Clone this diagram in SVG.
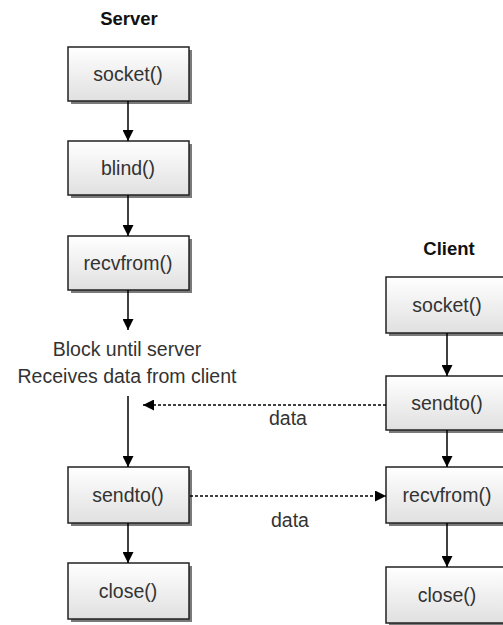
<svg xmlns="http://www.w3.org/2000/svg" width="503" height="625" viewBox="0 0 503 625">
<defs>
<linearGradient id="g" x1="0" y1="0" x2="0" y2="1">
<stop offset="0" stop-color="#ffffff"/>
<stop offset="1" stop-color="#e0e0e0"/>
</linearGradient>
<marker id="ah" viewBox="0 0 10 10" refX="10" refY="5" markerWidth="11" markerHeight="11" markerUnits="userSpaceOnUse" orient="auto">
<path d="M0,0 L10,5 L0,10 Z" fill="#000"/>
</marker>
</defs>
<style>
.box{fill:url(#g);stroke:#222;stroke-width:1.5}
.sh{fill:#7a7a7a}
.t{font-family:"Liberation Sans",Arial,sans-serif;font-size:19.5px;fill:#333;text-anchor:middle}
.h{font-family:"Liberation Sans",Arial,sans-serif;font-size:18.5px;font-weight:bold;fill:#111;text-anchor:middle}
.ln{stroke:#000;stroke-width:1.5;fill:none}
.dl{stroke:#000;stroke-width:1.5;fill:none;stroke-dasharray:3,2}
</style>
<text class="h" x="129" y="25">Server</text>
<text class="h" x="449" y="255">Client</text>
<g id="s_socket"><rect class="sh" x="71" y="50" width="121" height="54"/><rect class="box" x="68" y="47" width="121" height="54"/><text class="t" x="128" y="81">socket()</text></g>
<g id="s_blind"><rect class="sh" x="71" y="144" width="121" height="54"/><rect class="box" x="68" y="141" width="121" height="54"/><text class="t" x="128" y="175">blind()</text></g>
<g id="s_recvfrom"><rect class="sh" x="71" y="239" width="121" height="54"/><rect class="box" x="68" y="236" width="121" height="54"/><text class="t" x="128" y="270">recvfrom()</text></g>
<g id="s_block"><text class="t" x="127" y="356">Block until server</text><text class="t" x="127" y="383">Receives data from client</text></g>
<g id="s_sendto"><rect class="sh" x="71" y="470" width="121" height="56"/><rect class="box" x="68" y="467" width="121" height="56"/><text class="t" x="128" y="502">sendto()</text></g>
<g id="s_close"><rect class="sh" x="71" y="566" width="121" height="56"/><rect class="box" x="68" y="563" width="121" height="56"/><text class="t" x="128" y="598">close()</text></g>
<g id="c_socket"><rect class="sh" x="389" y="280" width="121" height="56"/><rect class="box" x="386" y="277" width="121" height="56"/><text class="t" x="447" y="312">socket()</text></g>
<g id="c_sendto"><rect class="sh" x="389" y="379" width="121" height="54"/><rect class="box" x="386" y="376" width="121" height="54"/><text class="t" x="447" y="410">sendto()</text></g>
<g id="c_recvfrom"><rect class="sh" x="389" y="470" width="121" height="56"/><rect class="box" x="386" y="467" width="121" height="56"/><text class="t" x="447" y="502">recvfrom()</text></g>
<g id="c_close"><rect class="sh" x="389" y="570" width="121" height="56"/><rect class="box" x="386" y="567" width="121" height="56"/><text class="t" x="447" y="602">close()</text></g>
<g id="connectors">
<line class="ln" x1="128" y1="101" x2="128" y2="141" marker-end="url(#ah)"/>
<line class="ln" x1="128" y1="195" x2="128" y2="236" marker-end="url(#ah)"/>
<line class="ln" x1="128" y1="290" x2="128" y2="330" marker-end="url(#ah)"/>
<line class="ln" x1="128" y1="396" x2="128" y2="467" marker-end="url(#ah)"/>
<line class="ln" x1="128" y1="523" x2="128" y2="563" marker-end="url(#ah)"/>
<line class="ln" x1="447" y1="333" x2="447" y2="376" marker-end="url(#ah)"/>
<line class="ln" x1="447" y1="430" x2="447" y2="467" marker-end="url(#ah)"/>
<line class="ln" x1="447" y1="523" x2="447" y2="567" marker-end="url(#ah)"/>
<line class="dl" x1="386" y1="405" x2="143" y2="405" marker-end="url(#ah)"/>
<line class="dl" x1="190" y1="496" x2="386" y2="496" marker-end="url(#ah)"/>
<text class="t" x="288" y="425">data</text>
<text class="t" x="290" y="527">data</text>
</g>
</svg>
